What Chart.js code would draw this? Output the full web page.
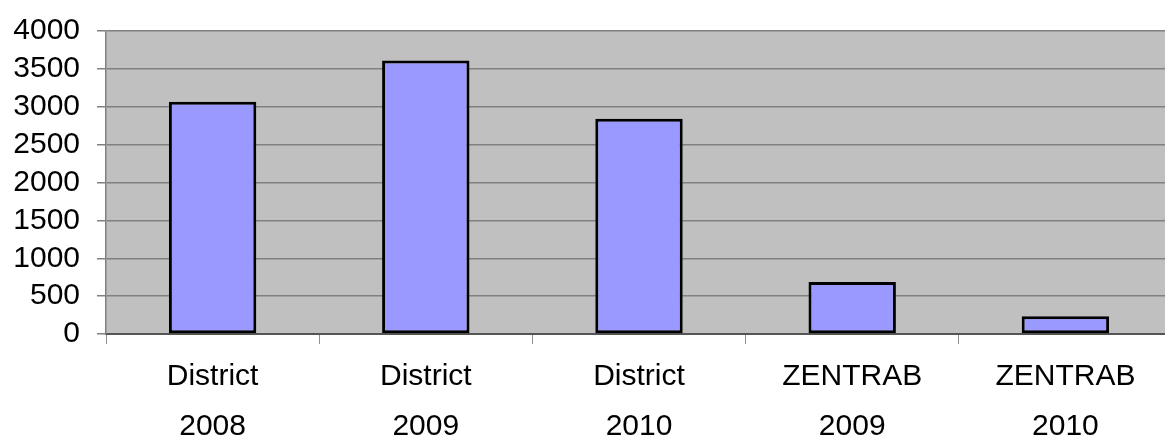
<!DOCTYPE html>
<html>
<head>
<meta charset="utf-8">
<script src="https://cdn.jsdelivr.net/npm/chart.js@4"></script>
<style>
  html, body { margin: 0; padding: 0; background: #fff; overflow: hidden; }
  #wrap { width: 1175px; height: 439px; }
</style>
</head>
<body>
<div id="wrap"><canvas id="barChart" width="1175" height="439"></canvas></div>
<script>
const categories = [
    ['District', '2008'],
    ['District', '2009'],
    ['District', '2010'],
    ['ZENTRAB', '2009'],
    ['ZENTRAB', '2010']
];
const values = [3065, 3610, 2840, 685, 235];
const yMax = 4000;
const yStep = 500;

// grey plot background like the old office charts
const plotBackground = {
    id: 'plotBackground',
    beforeDraw(chart) {
        const { ctx, chartArea } = chart;
        ctx.save();
        ctx.fillStyle = '#c0c0c0';
        ctx.fillRect(chartArea.left, chartArea.top, chartArea.right - chartArea.left, chartArea.bottom - chartArea.top);
        ctx.restore();
    }
};

window.onload = function() {
    const ctx = document.getElementById('barChart').getContext('2d');

    new Chart(ctx, {
        type: 'bar',
        data: {
            labels: categories,
            datasets: [{
                data: values,
                backgroundColor: '#9999ff',
                borderColor: '#000000',
                borderWidth: 3,
                borderSkipped: false,
                barPercentage: 0.41,
                categoryPercentage: 1
            }]
        },
        options: {
            responsive: false,
            animation: false,
            layout: { padding: { top: 31, right: 3, bottom: 0, left: 0 } },
            plugins: {
                legend: { display: false },
                tooltip: { enabled: false }
            },
            scales: {
                x: {
                    grid: {
                        drawOnChartArea: false,
                        drawTicks: true,
                        tickLength: 10,
                        color: '#909090'
                    },
                    border: { color: '#555555', width: 2 },
                    ticks: {
                        color: '#000',
                        padding: 8,
                        maxRotation: 0,
                        font: { family: '"Liberation Sans", Arial, sans-serif', size: 30, lineHeight: 1.65 }
                    },
                    afterFit(scale) {
                        scale.height = 105;
                        scale.paddingTop = 0;
                        scale.paddingBottom = 0;
                    }
                },
                y: {
                    min: 0,
                    max: yMax,
                    grid: {
                        color: '#808080',
                        lineWidth: 1.5,
                        tickLength: 9
                    },
                    border: { color: '#808080', width: 1.5 },
                    ticks: {
                        stepSize: yStep,
                        autoSkip: false,
                        color: '#000',
                        padding: 17,
                        font: { family: '"Liberation Sans", Arial, sans-serif', size: 30 },
                        callback: v => String(v)
                    },
                    afterFit(scale) {
                        scale.width = 106;
                        scale.paddingTop = 0;
                        scale.paddingBottom = 0;
                    }
                }
            }
        },
        plugins: [plotBackground]
    });
};
</script>
</body>
</html>
